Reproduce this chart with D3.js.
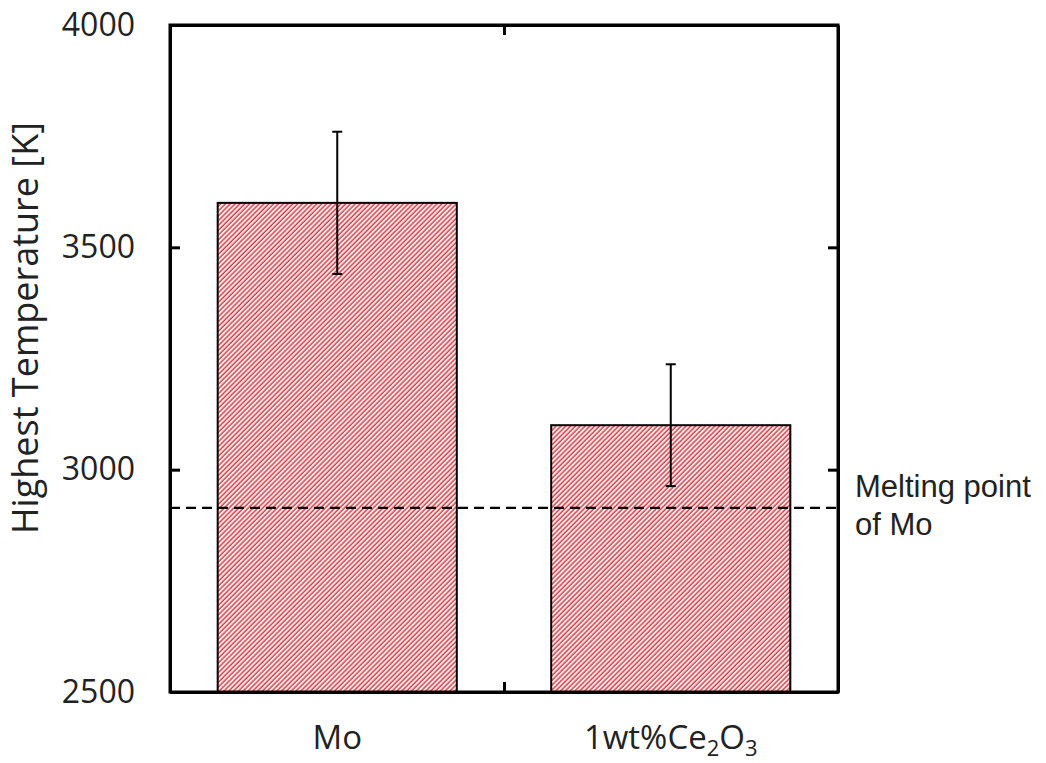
<!DOCTYPE html>
<html>
<head>
<meta charset="utf-8">
<script src="https://cdn.jsdelivr.net/npm/d3@7"></script>
<style>
  html, body { margin: 0; padding: 0; background: #fff; }
  svg { display: block; }
</style>
</head>
<body>
<svg id="chart" width="1046" height="763"></svg>
<script>
// Peak temperature reached by each specimen, with its spread
const categories = ["Mo", "1wt%Ce2O3"];
const highestTemp = [3600, 3100];
const tempError = [160, 137];
const yTicks = [2500, 3000, 3500, 4000];
const meltingPointMo = 2914;
const meltingLabel = ["Melting point", "of Mo"];
const yLabel = "Highest Temperature [K]";

const svg = d3.select("#chart");
const frame = { left: 170, right: 838, top: 25, bottom: 692 };

const y = d3.scaleLinear().domain([2500, 4000]).range([frame.bottom, frame.top]);
const x = d3.scaleBand()
  .domain(categories)
  .range([frame.left, frame.right])
  .paddingInner(0.283)
  .paddingOuter(0.143);

// Red diagonal hatching for the bars
const defs = svg.append("defs");
const pat = defs.append("pattern")
  .attr("id", "hatch")
  .attr("patternUnits", "userSpaceOnUse")
  .attr("width", 3.4)
  .attr("height", 10)
  .attr("patternTransform", "rotate(45)");
pat.append("rect").attr("width", 3.4).attr("height", 10).attr("fill", "#fdf1f1");
pat.append("line")
  .attr("x1", 1).attr("y1", 0).attr("x2", 1).attr("y2", 10)
  .attr("stroke", "#e0404a").attr("stroke-width", 1.5);

// Bars
svg.append("g").selectAll("rect")
  .data(categories)
  .join("rect")
  .attr("x", d => x(d))
  .attr("width", x.bandwidth())
  .attr("y", (d, i) => y(highestTemp[i]))
  .attr("height", (d, i) => y(2500) - y(highestTemp[i]))
  .attr("fill", "url(#hatch)")
  .attr("stroke", "#000")
  .attr("stroke-width", 2);

// Error bars
const eb = svg.append("g").attr("stroke", "#000").attr("stroke-width", 2);
categories.forEach((c, i) => {
  const cx = x(c) + x.bandwidth() / 2;
  const hi = y(highestTemp[i] + tempError[i]);
  const lo = y(highestTemp[i] - tempError[i]);
  eb.append("line").attr("x1", cx).attr("x2", cx).attr("y1", hi).attr("y2", lo);
  eb.append("line").attr("x1", cx - 5).attr("x2", cx + 5).attr("y1", hi).attr("y2", hi);
  eb.append("line").attr("x1", cx - 5).attr("x2", cx + 5).attr("y1", lo).attr("y2", lo);
});

// Melting point reference line
svg.append("line")
  .attr("x1", frame.left).attr("x2", frame.right)
  .attr("y1", y(meltingPointMo)).attr("y2", y(meltingPointMo))
  .attr("stroke", "#000").attr("stroke-width", 2.4)
  .attr("stroke-dasharray", "10,6");

// Axes with inward ticks
const tickFont = "'Open Sans', sans-serif";
const left = svg.append("g")
  .attr("transform", `translate(${frame.left},0)`)
  .call(d3.axisLeft(y).tickValues(yTicks).tickFormat(d3.format("d"))
    .tickSizeInner(-10).tickSizeOuter(0).tickPadding(35));
left.selectAll("text").attr("font-family", tickFont).attr("font-size", 32).attr("fill", "#222");

svg.append("g")
  .attr("transform", `translate(${frame.right},0)`)
  .call(d3.axisRight(y).tickValues(yTicks).tickFormat("")
    .tickSizeInner(-10).tickSizeOuter(0));

const midX = (x(categories[0]) + x.bandwidth() + x(categories[1])) / 2;
const divider = d3.scaleLinear().domain([0, 1]).range([frame.left, frame.right]);
const sep = (midX - frame.left) / (frame.right - frame.left);
svg.append("g")
  .attr("transform", `translate(0,${frame.bottom})`)
  .call(d3.axisBottom(divider).tickValues([sep]).tickFormat("").tickSizeInner(-10).tickSizeOuter(0));
svg.append("g")
  .attr("transform", `translate(0,${frame.top})`)
  .call(d3.axisTop(divider).tickValues([sep]).tickFormat("").tickSizeInner(-10).tickSizeOuter(0));

svg.selectAll(".domain").attr("stroke", "#000").attr("stroke-width", 3);
svg.selectAll(".tick line").attr("stroke", "#000").attr("stroke-width", 3);

// Plot frame
svg.append("rect")
  .attr("x", frame.left).attr("y", frame.top)
  .attr("width", frame.right - frame.left).attr("height", frame.bottom - frame.top)
  .attr("fill", "none").attr("stroke", "#000").attr("stroke-width", 3);

// Category labels, digits after element symbols set as subscripts
categories.forEach(c => {
  const t = svg.append("text")
    .attr("x", x(c) + x.bandwidth() / 2)
    .attr("y", 749)
    .attr("text-anchor", "middle")
    .attr("font-family", tickFont)
    .attr("font-size", 33)
    .attr("fill", "#222");
  let shift = 0;
  c.split(/(?<=[A-Za-z])(\d+)/).forEach((part, k) => {
    if (!part) return;
    const sub = k % 2 === 1;
    const target = sub ? 7 : 0;
    const ts = t.append("tspan").attr("dy", target - shift).text(part);
    if (sub) ts.attr("font-size", 22);
    shift = target;
  });
});

// Y axis title
svg.append("text")
  .attr("transform", `translate(38,328) rotate(-90)`)
  .attr("text-anchor", "middle")
  .attr("font-family", tickFont)
  .attr("font-size", 36)
  .attr("fill", "#222")
  .text(yLabel);

// Melting point annotation
svg.append("g").selectAll("text")
  .data(meltingLabel)
  .join("text")
  .attr("x", 855)
  .attr("y", (d, i) => 497 + i * 38)
  .attr("font-family", "'Liberation Sans', Arial, sans-serif")
  .attr("font-size", 31)
  .attr("fill", "#222")
  .text(d => d);
</script>
</body>
</html>
